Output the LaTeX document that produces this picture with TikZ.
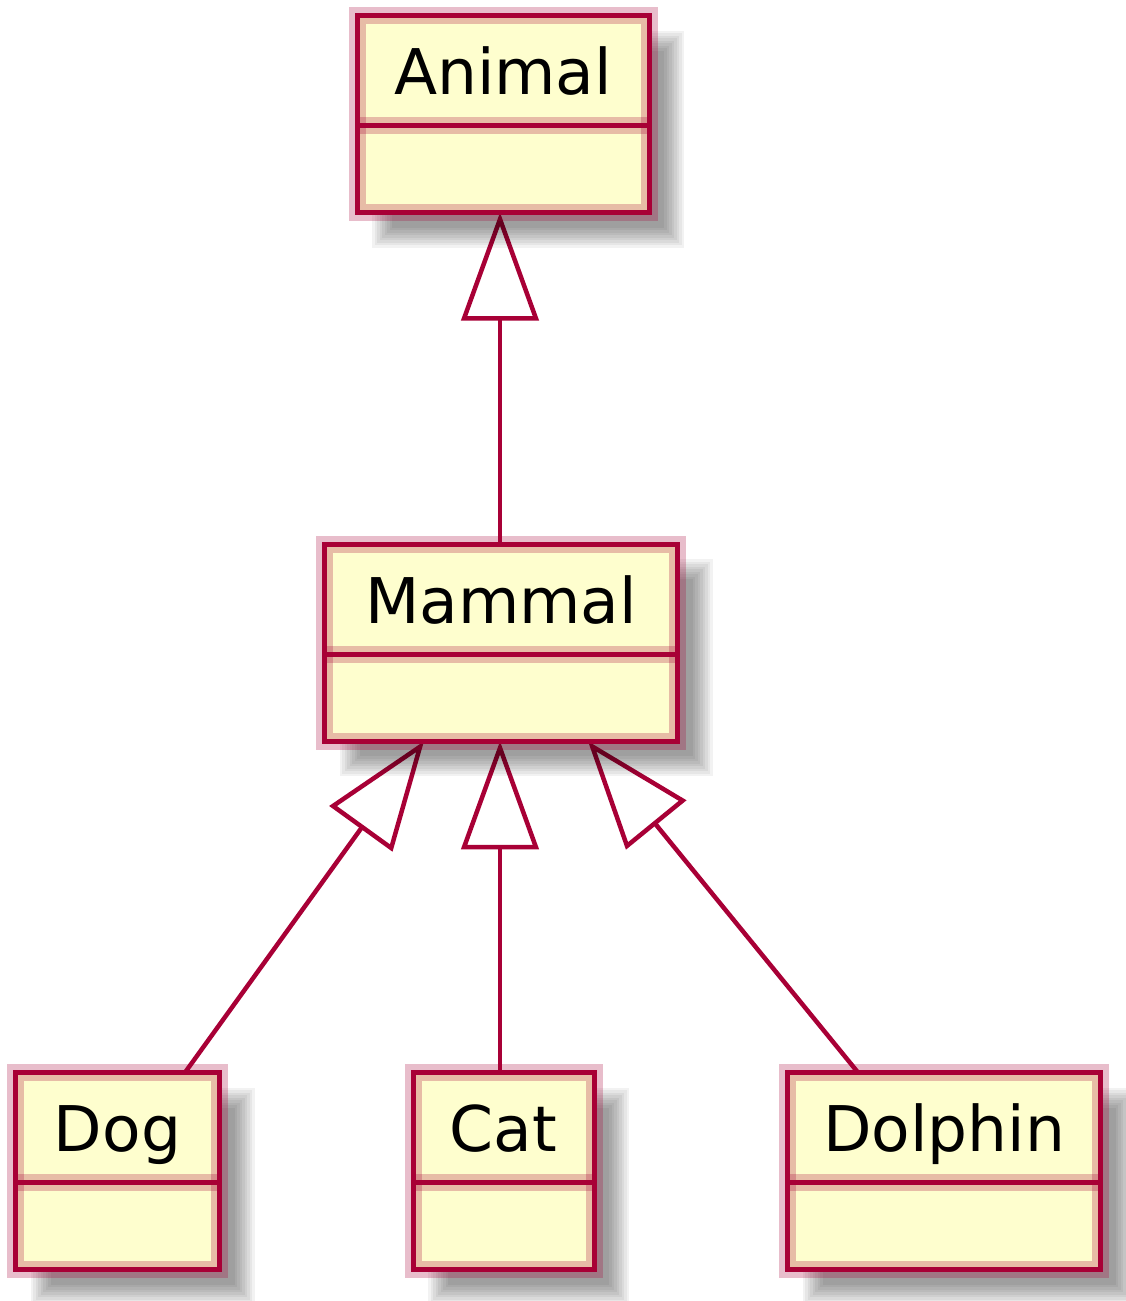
\documentclass[tikz,border=0pt]{standalone}
\usepackage{fontspec}
\setmainfont{DejaVu Sans}
\usetikzlibrary{arrows.meta}
\pgfdeclarelayer{bg}
\pgfdeclarelayer{shadow}
\pgfsetlayers{bg,shadow,main}
\definecolor{umlred}{HTML}{A80036}
\definecolor{umlfill}{HTML}{FEFECE}
\tikzset{
  cls/.style={draw=umlred, fill=umlfill, line width=5pt, rectangle,
    inner sep=0pt, outer sep=0pt, minimum height=197pt,
    text height=40pt, text depth=79pt, text=black,
    font=\fontsize{63}{70}\selectfont,
    path picture={
      \draw[umlred, line width=17pt, opacity=0.26]
        ([yshift=-110pt]path picture bounding box.north west) --
        ([yshift=-110pt]path picture bounding box.north east);
      \draw[umlred, line width=5pt]
        ([yshift=-110pt]path picture bounding box.north west) --
        ([yshift=-110pt]path picture bounding box.north east);
    },
    postaction={draw=umlred, draw opacity=0.26, line width=17pt}},
  shadowlayer/.style={fill=black, opacity=0.052},
  inh/.style={draw=umlred, line width=4.5pt,
    -{Triangle[open, fill=white, length=108pt, width=77pt]}}
}
\begin{document}
\begin{tikzpicture}
\useasboundingbox (0,0) rectangle (1126pt,-1301pt);
\node[cls, minimum width=292pt] (animal) at (503pt,-114pt) {Animal};
\node[cls, minimum width=353pt] (mammal) at (501pt,-642.75pt) {Mammal};
\node[cls, minimum width=204pt] (dog) at (117.5pt,-1171pt) {Dog};
\node[cls, minimum width=181pt] (cat) at (503.5pt,-1171pt) {Cat};
\node[cls, minimum width=313pt] (dolphin) at (944pt,-1171pt) {Dolphin};
\begin{pgfonlayer}{shadow}
  \foreach \n in {animal,mammal,dog,cat,dolphin}{
    \foreach \a/\b in {15/35,17.5/32.5,20/30,22.5/27.5,25/25,27.5/22.5,30/20,32.5/17.5,35/15}{
      \fill[shadowlayer] ([shift={(\a pt,-\a pt)}]\n.north west)
        rectangle ([shift={(\b pt,-\b pt)}]\n.south east);
    }
  }
\end{pgfonlayer}
\begin{pgfonlayer}{bg}
  \coordinate (aS) at ([xshift=-3pt]animal.south);
  \coordinate (mN) at ([xshift=-1pt]mammal.north);
  \coordinate (mDog) at ([xshift=-77pt]mammal.south);
  \coordinate (mCat) at ([xshift=-1pt]mammal.south);
  \coordinate (mDol) at ([xshift=87pt]mammal.south);
  \coordinate (dogN) at ([xshift=67.5pt]dog.north);
  \coordinate (catN) at ([xshift=-3.5pt]cat.north);
  \coordinate (dolN) at ([xshift=-86pt]dolphin.north);
  \draw[inh] (mN) -- (aS);
  \draw[inh] (dogN) -- (mDog);
  \draw[inh] (catN) -- (mCat);
  \draw[inh] (dolN) -- (mDol);
\end{pgfonlayer}
\end{tikzpicture}
\end{document}
